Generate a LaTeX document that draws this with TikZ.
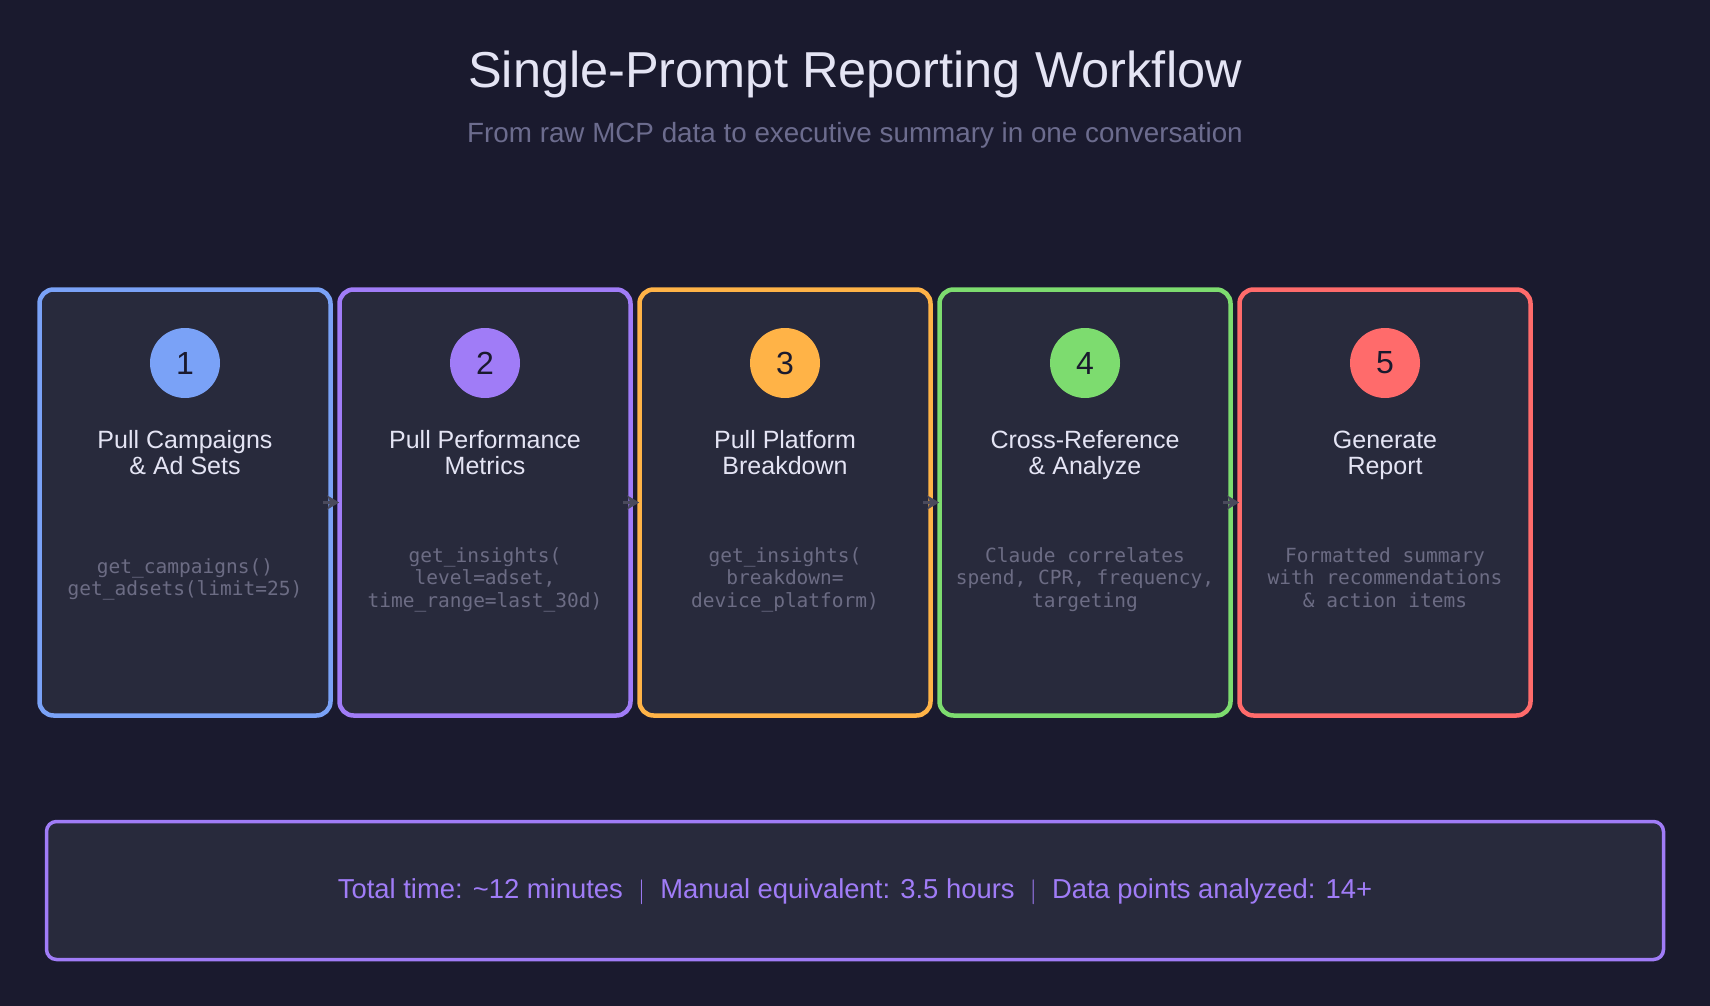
\documentclass[tikz,border=0pt]{standalone}
\usepackage{fontspec}
\setmainfont{Liberation Sans}
\setmonofont{DejaVu Sans Mono}
\usetikzlibrary{arrows.meta}
\definecolor{bg}{HTML}{1A1A2E}
\definecolor{cardbg}{HTML}{282A3C}
\definecolor{cA}{HTML}{7AA2F7}
\definecolor{cB}{HTML}{A07CF7}
\definecolor{cC}{HTML}{FFB347}
\definecolor{cD}{HTML}{7DDC6F}
\definecolor{cE}{HTML}{FF6B6B}
\definecolor{titlec}{HTML}{E4E4F4}
\definecolor{subc}{HTML}{6C6C8E}
\definecolor{codec}{HTML}{6C6C84}
\definecolor{arrc}{HTML}{4A4A5C}
\tikzset{
 card/.style={draw=#1,fill=cardbg,line width=4.5pt,rounded corners=14pt,minimum width=291pt,minimum height=426pt,inner sep=0pt},
 num/.style={circle,fill=#1,minimum size=70pt,inner sep=0pt,font=\fontsize{32}{32}\selectfont,text=bg},
 stitle/.style={align=center,text=titlec,font=\fontsize{25}{26}\selectfont},
 code/.style={align=center,text=codec,font=\ttfamily\fontsize{19.5}{22.5}\selectfont},
 arr/.style={draw=arrc,line width=3pt,-{Stealth[length=12pt,width=14pt,inset=3pt]}}
}
\begin{document}
\begin{tikzpicture}[x=1pt,y=-1pt]
\fill[bg] (0,0) rectangle (1710,1006);
\useasboundingbox (0,0) rectangle (1710,1006);
\node[text=titlec,font=\fontsize{50.5}{54}\selectfont] (title) at (855,74) {Single-Prompt Reporting Workflow};
\node[text=subc,font=\fontsize{27.8}{30}\selectfont] (sub) at (855,135) {From raw MCP data to executive summary in one conversation};
\foreach \i/\c/\n/\t/\k in {
 0/cA/1/{Pull Campaigns\strut\\\& Ad Sets\strut}/{get\_campaigns()\strut\\get\_adsets(limit=25)\strut},
 1/cB/2/{Pull Performance\strut\\Metrics\strut}/{get\_insights(\strut\\level=adset,\strut\\time\_range=last\_30d)\strut},
 2/cC/3/{Pull Platform\strut\\Breakdown\strut}/{get\_insights(\strut\\breakdown=\strut\\device\_platform)\strut},
 3/cD/4/{Cross-Reference\strut\\\& Analyze\strut}/{Claude correlates\strut\\spend, CPR, frequency,\strut\\targeting\strut},
 4/cE/5/{Generate\strut\\Report\strut}/{Formatted summary\strut\\with recommendations\strut\\\& action items\strut}}{
 \node[card=\c] (card\n) at (185+300*\i,502.5) {};
 \node[num=\c] (num\n) at (185+300*\i,363) {\n};
 \node[stitle] (st\n) at (185+300*\i,456.5) {\t};
 \node[code] (code\n) at (185+300*\i,580) {\k};
}
\foreach \a/\b in {1/2,2/3,3/4,4/5}{
 \draw[arr] ([xshift=-10pt]card\a.east) -- ([xshift=2pt]card\b.west);
}
\node[draw=cB,fill=cardbg,line width=3.5pt,rounded corners=10pt,minimum width=1617pt,minimum height=138pt] (summary) at (855,890.5) {};
\node[text=cB,font=\fontsize{27.4}{30}\selectfont] (sumtext) at (855,892) {Total time: \textasciitilde12 minutes \ $|$ \ Manual equivalent: 3.5 hours \ $|$ \ Data points analyzed: 14+};
\end{tikzpicture}
\end{document}
